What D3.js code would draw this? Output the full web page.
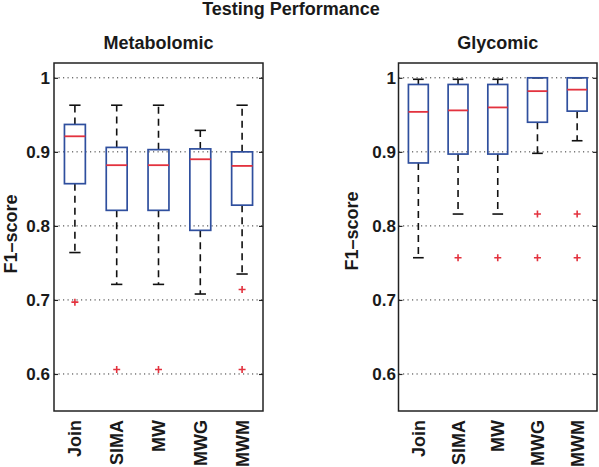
<!DOCTYPE html>
<html><head><meta charset="utf-8">
<script src="https://cdn.jsdelivr.net/npm/d3@7"></script>
<style>
body{margin:0;background:#fff;}
text{font-family:"Liberation Sans",Arial,Helvetica,sans-serif;font-weight:bold;fill:#1a1a1a;}
</style></head><body>
<svg id="chart" width="599" height="467"></svg>
<script>
const categories = ["Join","SIMA","MW","MWG","MWM"];
const yTicks = [0.6,0.7,0.8,0.9,1];

// Metabolomic
const metaLow  = [0.764,0.721,0.721,0.708,0.735];
const metaQ1   = [0.857,0.821,0.821,0.794,0.828];
const metaMed  = [0.921,0.882,0.882,0.890,0.881];
const metaQ3   = [0.937,0.906,0.903,0.904,0.900];
const metaHigh = [0.963,0.963,0.963,0.929,0.963];
const metaOut  = [[0.697],[0.606],[0.606],[],[0.714,0.606]];

// Glycomic
const glyLow  = [0.757,0.816,0.816,0.898,0.915];
const glyQ1   = [0.885,0.897,0.897,0.940,0.955];
const glyMed  = [0.954,0.956,0.960,0.982,0.984];
const glyQ3   = [0.991,0.991,0.991,1.000,1.000];
const glyHigh = [0.998,0.998,0.998,1.000,1.000];
const glyOut  = [[],[0.757],[0.757],[0.816,0.757],[0.816,0.757]];

const svg = d3.select("#chart");

svg.append("text").attr("x",291).attr("y",15).attr("text-anchor","middle")
  .style("font-size","18px").text("Testing Performance");

function panel(x0, x1, title, low, q1, med, q3, high, outs, ylabX, ylabY, pad){
  const top = 63, bottom = 411;
  const y = d3.scaleLinear().domain([0.55,1.02]).range([bottom, top]);
  const x = d3.scaleLinear().domain([0.5,5.5]).range([x0, x1]);
  const g = svg.append("g");
  const unit = (x1-x0)/5;
  const bw = unit*0.5, cw = unit*0.27;

  // grid
  g.selectAll(".grid").data(yTicks).join("line")
    .attr("x1",x0).attr("x2",x1).attr("y1",d=>y(d)).attr("y2",d=>y(d))
    .attr("stroke","#333").attr("stroke-width",1).attr("stroke-dasharray","1.2,3.3");

  // left axis
  const ax = d3.axisLeft(y).tickValues(yTicks).tickFormat(d=>d===1?"1":d3.format(".1f")(d))
    .tickSizeInner(-4).tickSizeOuter(0).tickPadding(pad);
  const ga = g.append("g").attr("transform",`translate(${x0},0)`).call(ax);
  ga.select(".domain").remove();
  ga.selectAll("line").attr("stroke","#222").attr("stroke-width",1.2);
  ga.selectAll("text").style("font-size","17px").style("font-family","'Liberation Sans',Arial,sans-serif").style("font-weight","bold").attr("fill","#1a1a1a");
  // right ticks
  const ar = d3.axisRight(y).tickValues(yTicks).tickFormat("").tickSizeInner(-4).tickSizeOuter(0);
  const gr = g.append("g").attr("transform",`translate(${x1},0)`).call(ar);
  gr.select(".domain").remove();
  gr.selectAll("line").attr("stroke","#222").attr("stroke-width",1.2);

  const idx = d3.range(categories.length);
  // whiskers
  g.selectAll(".wu").data(idx).join("line")
    .attr("x1",i=>x(i+1)).attr("x2",i=>x(i+1)).attr("y1",i=>y(q3[i])).attr("y2",i=>y(high[i]))
    .attr("stroke","#111").attr("stroke-width",1.6).attr("stroke-dasharray","7,5");
  g.selectAll(".wl").data(idx).join("line")
    .attr("x1",i=>x(i+1)).attr("x2",i=>x(i+1)).attr("y1",i=>y(q1[i])).attr("y2",i=>y(low[i]))
    .attr("stroke","#111").attr("stroke-width",1.6).attr("stroke-dasharray","7,5");
  // caps
  g.selectAll(".cu").data(idx).join("line")
    .attr("x1",i=>x(i+1)-cw/2).attr("x2",i=>x(i+1)+cw/2).attr("y1",i=>y(high[i])).attr("y2",i=>y(high[i]))
    .attr("stroke","#111").attr("stroke-width",1.6);
  g.selectAll(".cl").data(idx).join("line")
    .attr("x1",i=>x(i+1)-cw/2).attr("x2",i=>x(i+1)+cw/2).attr("y1",i=>y(low[i])).attr("y2",i=>y(low[i]))
    .attr("stroke","#111").attr("stroke-width",1.6);
  // boxes
  g.selectAll(".box").data(idx).join("rect")
    .attr("x",i=>x(i+1)-bw/2).attr("width",bw).attr("y",i=>y(q3[i])).attr("height",i=>y(q1[i])-y(q3[i]))
    .attr("fill","none").attr("stroke","#2f4f9e").attr("stroke-width",1.7);
  // medians
  g.selectAll(".med").data(idx).join("line")
    .attr("x1",i=>x(i+1)-bw/2).attr("x2",i=>x(i+1)+bw/2).attr("y1",i=>y(med[i])).attr("y2",i=>y(med[i]))
    .attr("stroke","#e3323e").attr("stroke-width",1.8);
  // outliers
  const pts = [];
  outs.forEach((arr,i)=>arr.forEach(v=>pts.push({i,v})));
  g.selectAll(".out").data(pts).join("path")
    .attr("d", "M-3.5,0H3.5M0,-3.5V3.5")
    .attr("transform",d=>`translate(${x(d.i+1)},${y(d.v)})`)
    .attr("stroke","#e3323e").attr("stroke-width",1.6).attr("fill","none");

  // frame
  g.append("rect").attr("x",x0).attr("y",top).attr("width",x1-x0).attr("height",bottom-top)
    .attr("fill","none").attr("stroke","#222").attr("stroke-width",1.5);

  // x labels
  g.selectAll(".xl").data(categories).join("text")
    .attr("transform",(d,i)=>`translate(${x(i+1)+6.5},${bottom+9}) rotate(-90)`)
    .attr("text-anchor","end").style("font-size","18px").text(d=>d);

  // title
  g.append("text").attr("x",(x0+x1)/2).attr("y",49).attr("text-anchor","middle")
    .style("font-size","18px").text(title);
  // y label
  g.append("text").attr("transform",`translate(${ylabX},${ylabY}) rotate(-90)`)
    .attr("text-anchor","middle").style("font-size","18px").text("F1\u2013score");
}

panel(54, 263, "Metabolomic", metaLow, metaQ1, metaMed, metaQ3, metaHigh, metaOut, 17, 234, 4);
panel(398.5, 597, "Glycomic", glyLow, glyQ1, glyMed, glyQ3, glyHigh, glyOut, 358, 231, 2.5);
</script></body></html>
